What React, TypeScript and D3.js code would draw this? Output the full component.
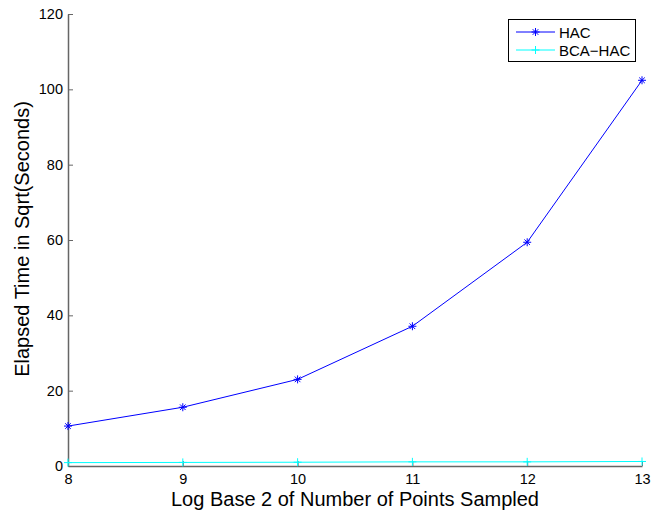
import React, { useEffect, useRef } from "react";
import * as d3 from "d3";

const logSizes = [8, 9, 10, 11, 12, 13];
const hacTimes = [10.6, 15.6, 23.0, 37.1, 59.4, 102.4];
const bcaHacTimes = [0.9, 0.95, 1.0, 1.1, 1.1, 1.2];
const yTicks = [0, 20, 40, 60, 80, 100, 120];
const seriesNames = ["HAC", "BCA\u2212HAC"];

const App = () => {
  const svgRef = useRef<SVGSVGElement>(null);

  useEffect(() => {
    const width = 663;
    const height = 512;
    const margin = { top: 14, right: 21, bottom: 46, left: 68 };
    const font = "Liberation Sans, Arial, Helvetica, sans-serif";

    const svg = d3.select(svgRef.current);
    svg.selectAll("*").remove();

    const x = d3
      .scaleLinear()
      .domain([8, 13])
      .range([margin.left, width - margin.right]);
    const y = d3
      .scaleLinear()
      .domain([0, 120])
      .range([height - margin.bottom, margin.top]);

    const axisColor = "#666";

    // y axis, ticks pointing inward
    const yAxis = svg
      .append("g")
      .attr("transform", `translate(${margin.left},0)`)
      .call(d3.axisRight(y).tickValues(yTicks).tickSize(5).tickSizeOuter(0));
    yAxis.select(".domain").attr("stroke", axisColor).attr("stroke-width", 1.5);
    yAxis.selectAll(".tick line").attr("stroke", axisColor);
    yAxis
      .selectAll(".tick text")
      .attr("x", -5)
      .attr("text-anchor", "end")
      .attr("font-family", font)
      .attr("font-size", 14.5)
      .attr("fill", "#000");

    // x axis, ticks pointing inward
    const xAxis = svg
      .append("g")
      .attr("transform", `translate(0,${height - margin.bottom})`)
      .call(
        d3
          .axisTop(x)
          .tickValues(logSizes)
          .tickFormat(d3.format("d"))
          .tickSize(5)
          .tickSizeOuter(0)
      );
    xAxis.select(".domain").attr("stroke", axisColor).attr("stroke-width", 1.5);
    xAxis.selectAll(".tick line").attr("stroke", axisColor);
    xAxis
      .selectAll(".tick text")
      .attr("y", 18)
      .attr("dy", 0)
      .attr("font-family", font)
      .attr("font-size", 14.5)
      .attr("fill", "#000");

    svg
      .append("text")
      .attr("x", 355)
      .attr("y", 506)
      .attr("text-anchor", "middle")
      .attr("font-family", font)
      .attr("font-size", 20)
      .text("Log Base 2 of Number of Points Sampled");

    svg
      .append("text")
      .attr("transform", `translate(29,239) rotate(-90)`)
      .attr("text-anchor", "middle")
      .attr("font-family", font)
      .attr("font-size", 20)
      .text("Elapsed Time in Sqrt(Seconds)");

    const line = d3
      .line<number>()
      .x((_, i) => x(logSizes[i]))
      .y((v) => y(v));

    const star = (g: any, cx: number, cy: number, color: string, r: number) => {
      g.append("path")
        .attr(
          "d",
          `M${cx - r},${cy}H${cx + r}M${cx},${cy - r}V${cy + r}` +
            `M${cx - r * 0.7},${cy - r * 0.7}L${cx + r * 0.7},${cy + r * 0.7}` +
            `M${cx - r * 0.7},${cy + r * 0.7}L${cx + r * 0.7},${cy - r * 0.7}`
        )
        .attr("stroke", color)
        .attr("fill", "none");
    };
    const plus = (g: any, cx: number, cy: number, color: string, r: number) => {
      g.append("path")
        .attr("d", `M${cx - r},${cy}H${cx + r}M${cx},${cy - r}V${cy + r}`)
        .attr("stroke", color)
        .attr("fill", "none");
    };

    const series = [
      { values: hacTimes, color: "#0000ff", marker: star },
      { values: bcaHacTimes, color: "#00ffff", marker: plus },
    ];

    series.forEach((s) => {
      const g = svg.append("g");
      g.append("path")
        .datum(s.values)
        .attr("fill", "none")
        .attr("stroke", s.color)
        .attr("stroke-width", 1)
        .attr("d", line);
      s.values.forEach((v, i) => s.marker(g, x(logSizes[i]), y(v), s.color, 4));
    });

    // legend
    const lg = svg.append("g");
    lg.append("rect")
      .attr("x", 508.5)
      .attr("y", 19.5)
      .attr("width", 127)
      .attr("height", 42)
      .attr("fill", "#fff")
      .attr("stroke", "#000");
    series.forEach((s, i) => {
      const ly = 32 + i * 18;
      lg.append("line")
        .attr("x1", 516)
        .attr("x2", 555)
        .attr("y1", ly)
        .attr("y2", ly)
        .attr("stroke", s.color);
      s.marker(lg, 535.5, ly, s.color, 4);
      lg.append("text")
        .attr("x", 559)
        .attr("y", ly + 5.5)
        .attr("font-family", font)
        .attr("font-size", 15)
        .text(seriesNames[i]);
    });
  }, []);

  return (
    <svg
      ref={svgRef}
      width={663}
      height={512}
      style={{ position: "absolute", left: 0, top: 0, background: "#fff" }}
    />
  );
};

export default App;
